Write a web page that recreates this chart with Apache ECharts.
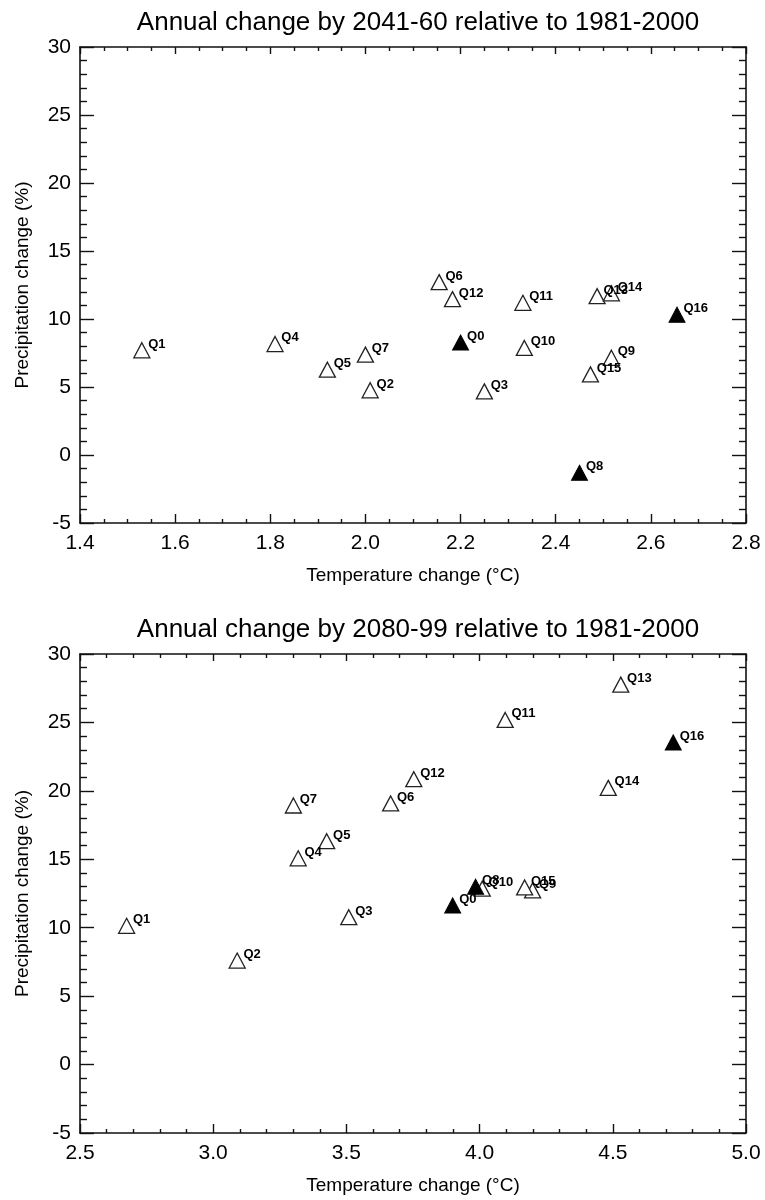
<!DOCTYPE html>
<html>
<head>
<meta charset="utf-8">
<script src="https://cdn.jsdelivr.net/npm/echarts@6/dist/echarts.min.js"></script>
<style>
html,body{margin:0;padding:0;background:#fff;}
#chart{width:765px;height:1200px;}
</style>
</head>
<body>
<div id="chart"></div>
<script>
// ---- data ----
const modelNames = ['Q0','Q1','Q2','Q3','Q4','Q5','Q6','Q7','Q8','Q9','Q10','Q11','Q12','Q13','Q14','Q15','Q16'];
const filledModels = ['Q0','Q8','Q16'];

// 2041-60 relative to 1981-2000
const temp2050   = [2.20, 1.53, 2.01, 2.25, 1.81, 1.92, 2.155, 2.00, 2.45, 2.517, 2.334, 2.331, 2.183, 2.487, 2.517, 2.473, 2.655];
const precip2050 = [8.27, 7.70, 4.76, 4.68, 8.16, 6.27, 12.71, 7.38, -1.31, 7.15, 7.87, 11.19, 11.46, 11.68, 11.89, 5.93, 10.32];

// 2080-99 relative to 1981-2000
const temp2090   = [3.899, 2.675, 3.09, 3.509, 3.319, 3.426, 3.666, 3.301, 3.985, 4.199, 4.01, 4.096, 3.753, 4.53, 4.483, 4.169, 4.727];
const precip2090 = [11.63, 10.14, 7.6, 10.77, 15.07, 16.32, 19.08, 18.93, 13.0, 12.73, 12.85, 25.18, 20.85, 27.76, 20.22, 12.94, 23.54];

const titles = ['Annual change by 2041-60 relative to 1981-2000', 'Annual change by 2080-99 relative to 1981-2000'];
const xName = 'Temperature change (°C)';
const yName = 'Precipitation change (%)';
const yTicks = [-5, 0, 5, 10, 15, 20, 25, 30];
const xTicksTop = [1.4, 1.6, 1.8, 2.0, 2.2, 2.4, 2.6, 2.8];
const xTicksBottom = [2.5, 3.0, 3.5, 4.0, 4.5, 5.0];

// ---- build ----
const FONT = "'Liberation Sans', Arial, Helvetica, sans-serif";
const INK = '#000';

function pts(temps, precs, filled) {
  const out = [];
  modelNames.forEach((n, i) => {
    if ((filledModels.indexOf(n) >= 0) === filled) out.push({ name: n, value: [temps[i], precs[i]] });
  });
  return out;
}

function xAxes(grid, ticks, minorSplit) {
  const min = ticks[0], max = ticks[ticks.length - 1];
  const interval = +(ticks[1] - ticks[0]).toFixed(3);
  const base = {
    gridIndex: grid, type: 'value', min: min, max: max, interval: interval,
    splitLine: { show: false },
    axisLine: { show: true, onZero: false, lineStyle: { color: '#111', width: 1.6 } },
    axisTick: { show: true, inside: true, length: 9, lineStyle: { color: '#111', width: 1.4 } },
    minorTick: { show: true, splitNumber: minorSplit, length: 4, lineStyle: { color: '#111', width: 1.4 } },
    minorSplitLine: { show: false }
  };
  return [
    Object.assign({}, base, {
      position: 'bottom',
      axisLabel: { show: true, margin: 10, fontSize: 21, color: INK, fontFamily: FONT,
        formatter: v => v.toFixed(1) },
      name: xName, nameLocation: 'middle', nameGap: 43,
      nameTextStyle: { fontSize: 19, color: INK, fontFamily: FONT }
    }),
    Object.assign({}, base, {
      position: 'top',
      axisLabel: { show: false },
      axisTick: { show: true, inside: true, length: 7, lineStyle: { color: '#111', width: 1.4 } }
    })
  ];
}

function yAxes(grid) {
  const base = {
    gridIndex: grid, type: 'value', min: yTicks[0], max: yTicks[yTicks.length - 1], interval: yTicks[1] - yTicks[0],
    splitLine: { show: false },
    axisLine: { show: true, onZero: false, lineStyle: { color: '#111', width: 1.6 } },
    axisTick: { show: true, inside: true, length: 14, lineStyle: { color: '#111', width: 1.4 } },
    minorTick: { show: true, splitNumber: 5, length: 7, lineStyle: { color: '#111', width: 1.4 } },
    minorSplitLine: { show: false }
  };
  return [
    Object.assign({}, base, {
      position: 'left',
      axisLabel: { show: true, margin: 9, fontSize: 21, color: INK, fontFamily: FONT },
      name: yName, nameLocation: 'middle', nameGap: 48,
      nameTextStyle: { fontSize: 19, color: INK, fontFamily: FONT }
    }),
    Object.assign({}, base, { position: 'right', axisLabel: { show: false } })
  ];
}

const labelCfg = {
  show: true, formatter: '{b}', position: [15, 2], align: 'left', verticalAlign: 'middle',
  fontSize: 13, fontWeight: 'bold', color: INK, fontFamily: FONT
};

function scatter(xi, yi, data, filled) {
  return {
    type: 'scatter', xAxisIndex: xi, yAxisIndex: yi,
    symbol: 'triangle', symbolSize: [16, 15],
    itemStyle: filled ? { color: '#000', borderColor: '#000', borderWidth: 1, opacity: 1 }
                      : { color: '#fff', borderColor: '#222', borderWidth: 1.3, opacity: 1 },
    label: labelCfg,
    z: filled ? 3 : 2,
    data: data,
    silent: true
  };
}

const option = {
  animation: false,
  backgroundColor: '#fff',
  title: [
    { text: titles[0], left: 413, top: 5, textAlign: 'center',
      textStyle: { fontSize: 26, fontWeight: 'normal', color: INK, fontFamily: FONT } },
    { text: titles[1], left: 413, top: 612, textAlign: 'center',
      textStyle: { fontSize: 26, fontWeight: 'normal', color: INK, fontFamily: FONT } }
  ],
  grid: [
    { left: 80, top: 47, width: 666, height: 476 },
    { left: 80, top: 654, width: 666, height: 479 }
  ],
  xAxis: [].concat(xAxes(0, xTicksTop, 4), xAxes(1, xTicksBottom, 5)),
  yAxis: [].concat(yAxes(0), yAxes(1)),
  series: [
    scatter(0, 0, pts(temp2050, precip2050, false), false),
    scatter(0, 0, pts(temp2050, precip2050, true), true),
    scatter(2, 2, pts(temp2090, precip2090, false), false),
    scatter(2, 2, pts(temp2090, precip2090, true), true)
  ]
};

const chart = echarts.init(document.getElementById('chart'), null, { renderer: 'canvas' });
chart.setOption(option);
</script>
</body>
</html>
